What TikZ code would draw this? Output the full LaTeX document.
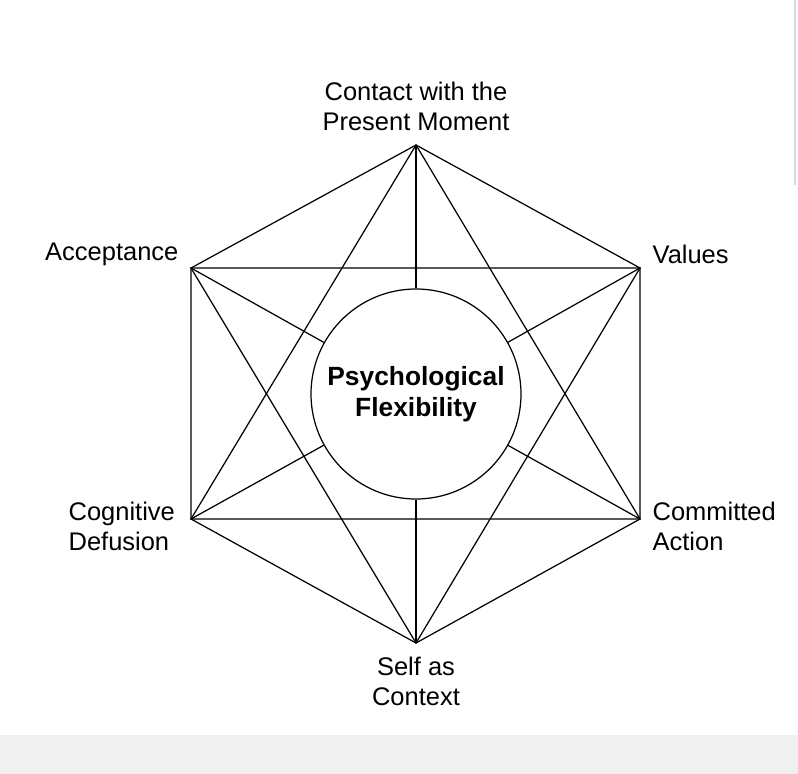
\documentclass[tikz,border=0pt]{standalone}
\usepackage{fontspec}
\setmainfont{Liberation Sans}
\usepackage{tikz}
\usetikzlibrary{positioning}

\tikzset{
  edge/.style  = {line width=0.7pt},
  label/.style = {font=\fontsize{14.5}{17}\selectfont, align=center, inner sep=0pt},
}

\begin{document}
\begin{tikzpicture}[x=0.02cm, y=-0.02cm]

       \useasboundingbox             (0,0) rectangle (798,774);
       \fill [gray!12]               (0,735) rectangle (798,774);
       \draw [gray!30, line width=1pt] (795,0) -- (795,185);

        \coordinate (top) at (416,145);
        \coordinate (ur)  at (640,268);
        \coordinate (lr)  at (640,519);
        \coordinate (bot) at (416,643);
        \coordinate (ll)  at (191,519);
        \coordinate (ul)  at (191,268);

        \node [circle, draw, edge, minimum size=210*0.02cm, inner sep=0pt,
               font=\fontsize{15}{18}\selectfont\bfseries, align=center]
              (core) at (416,394) {Psychological\\Flexibility};

        % outer hexagon
        \draw [edge]  (top) -- (ur) -- (lr) -- (bot) -- (ll) -- (ul) -- cycle;

        % the two triangles
        \draw [edge]  (top) -- (lr) -- (ll) -- cycle;
        \draw [edge]  (bot) -- (ul) -- (ur) -- cycle;

        % spokes to the circle
        \foreach \v in {top, ur, lr, bot, ll, ul}
            \draw [edge]  (\v) -- (core);

        \node [label, above=8pt of top]                  (contact) {Contact with the\\Present Moment};
        \node [label, above left=1pt and 7pt of ul]      (accept)  {Acceptance};
        \node [label, above right=2pt and 7pt of ur]     (values)  {Values};
        \node [label, align=left, left=9pt of ll, yshift=-4pt]  (defuse)  {Cognitive\\Defusion};
        \node [label, align=left, right=7pt of lr, yshift=-4pt] (commit)  {Committed\\Action};
        \node [label, below=8pt of bot]                  (self)    {Self as\\Context};

\end{tikzpicture}
\end{document}
